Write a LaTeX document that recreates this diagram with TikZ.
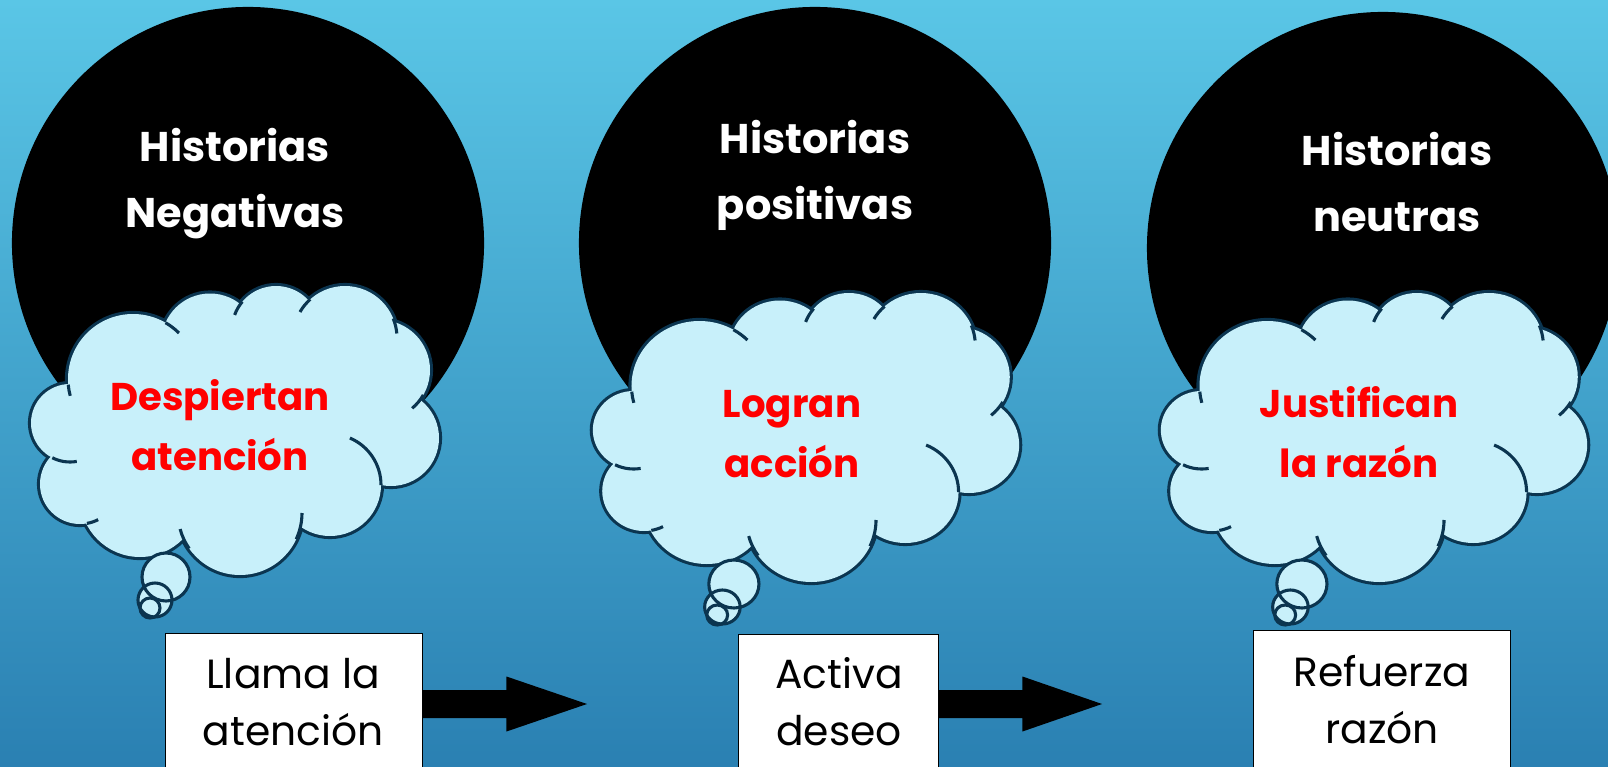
\documentclass[tikz,border=0pt]{standalone}
\usepackage{fontspec}
\setmainfont{Poppins}
\usetikzlibrary{calc}
\definecolor{cielo}{HTML}{5AC6E6}
\definecolor{mar}{HTML}{2A80B2}
\definecolor{nubf}{HTML}{C8F0FA}
\definecolor{nubl}{HTML}{0B3550}
\tikzset{
    bola/.style={circle,fill=black,inner sep=0pt,minimum size=11.8cm},
    caja/.style={draw=black,fill=white,line width=0.6pt,anchor=north,inner sep=0pt,minimum height=4cm},
    ttl/.style={text=white,font=\bfseries\fontsize{29.5}{47}\selectfont,align=center,anchor=base,inner sep=0pt},
    rtx/.style={text=red,font=\bfseries\fontsize{27.5}{42}\selectfont,align=center,anchor=base,inner sep=0pt},
    ctx/.style={text=black,font=\fontsize{29}{40.5}\selectfont,align=center,anchor=base,inner sep=0pt}
}
% bolitas de la nube (centro x/y/radio), relativas al centro de la nube
\def\puffs{-102/-52/65,-25/-89/48.5,41/-101/44,110/-93/52,145/-61/50,156/7/48,
    95/54/51,5/82/62,-95/66/60,-155/53/40,-165/-8/39}
% arcos cortos hacia dentro
\def\ticks{-102/-52/65/-60/-45,-102/-52/65/165/175,41/-101/44/-140/-160,
    110/-93/52/-150/-132,110/-93/52/-22/-5,145/-61/50/30/50,95/54/51/-67/0,
    5/82/62/0/25,5/82/62/145/165,-155/53/40/63/80,-165/-8/39/80/117}
\def\burbujas{-69/146/24,-80/169/17,-85/177/10}
\newcommand\nube[3]{%
    \begin{scope}[shift={(#1,#2)},xscale=#3]
        \foreach \cx/\cy/\rad in \puffs
            \draw [nubl,line width=4.4pt] (\cx,\cy) circle [radius=\rad];
        \fill [nubf] (-102,-52) -- (-25,-89) -- (41,-101) -- (110,-93) -- (145,-61) -- (156,7)
            -- (95,54) -- (5,82) -- (-95,66) -- (-155,53) -- (-165,-8) -- cycle;
        \foreach \cx/\cy/\rad in \puffs
            \fill [nubf] (\cx,\cy) circle [radius=\rad];
        \foreach \cx/\cy/\rad/\angA/\angB in \ticks
            \draw [nubl,line width=2.2pt] (\cx,\cy) ++(\angA:\rad) arc [start angle=\angA,end angle=\angB,radius=\rad];
        \foreach \cx/\cy/\rad in \burbujas
            \fill [nubf] (\cx,\cy) circle [radius=\rad];
        \foreach \cx/\cy/\rad in \burbujas
            \draw [nubl,line width=2.2pt] (\cx,\cy) circle [radius=\rad];
    \end{scope}}

\begin{document}
\begin{tikzpicture}[x=0.025cm,y=-0.025cm]
    \useasboundingbox (0,0) rectangle (1608,767);
    \clip (0,0) rectangle (1608,767);
    \shade [top color=cielo,bottom color=mar] (0,0) rectangle (1608,767);
    % circulos negros
    \foreach \x/\y [count=\i] in {248/243,815/243,1383/248}
        \node [bola] (c\i) at (\x,\y) {};
    \foreach \x/\y/\txt [count=\i] in {235/228/{Historias\\Negativas},815/220/{Historias\\positivas},1397/232/{Historias\\neutras}}
        \node [ttl] (h\i) at (\x,\y) {\txt};
    % nubes
    \nube{235}{431}{1}
    \nube{806}{438}{1.045}
    \nube{1374}{438}{1.045}
    \foreach \x/\y/\txt [count=\i] in {220/470/{Despiertan\\atención},792/477/{Logran\\acción},1359/477/{Justifican\\la razón}}
        \node [rtx] (r\i) at (\x,\y) {\txt};
    % cajas
    \node [caja,minimum width=6.425cm] (b1) at (293.5,633) {};
    \node [caja,minimum width=5cm] (b2) at (838,634) {};
    \node [caja,minimum width=6.425cm] (b3) at (1381.5,630) {};
    \foreach \x/\y/\txt [count=\i] in {293/745/{Llama la\\atención},839/745/{Activa\\deseo},1382/743/{Refuerza\\razón}}
        \node [ctx] (k\i) at (\x,\y) {\txt};
    % flechas
    \coordinate (p1) at (587,704);
    \coordinate (p2) at (1102,704);
    \foreach \i in {1,2}
        \fill (b\i.east |- p\i) ++(0,-14) -- ++(84,0) -- ++(0,-13.5) -- (p\i)
            -- ($(b\i.east |- p\i)+(84,27.5)$) -- ++(0,-13.5) -- ++(-84,0) -- cycle;
\end{tikzpicture}
\end{document}
